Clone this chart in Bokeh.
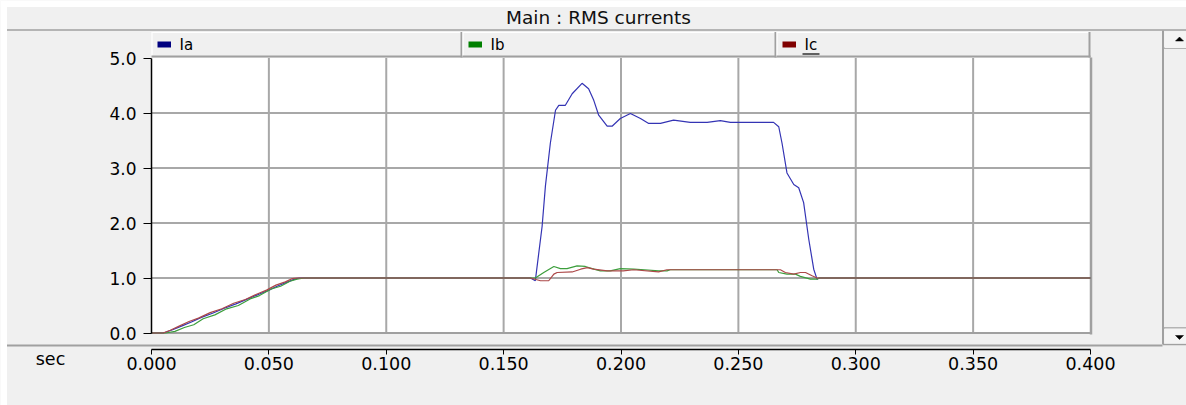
from bokeh.plotting import figure
from bokeh.models import (Range1d, FixedTicker, NumeralTickFormatter,
                          LinearAxis, Label)
from bokeh.embed import file_html
from bokeh.resources import INLINE

# ---- data -------------------------------------------------------------
title_text = "Main : RMS currents"
series_names = ["Ia", "Ib", "Ic"]

x_ticks = [0.0, 0.05, 0.10, 0.15, 0.20, 0.25, 0.30, 0.35, 0.40]
y_ticks = [0.0, 1.0, 2.0, 3.0, 4.0, 5.0]

t_ia = [0.0, 0.005, 0.009, 0.013, 0.017, 0.021, 0.026, 0.031, 0.036, 0.041,
        0.046, 0.050, 0.054, 0.058, 0.061, 0.063,
        0.1614, 0.1635, 0.1664, 0.1678, 0.1699, 0.1721, 0.1735, 0.1763,
        0.1792, 0.1834, 0.1862, 0.1884, 0.1905, 0.1941, 0.1962, 0.1997,
        0.2040, 0.2083, 0.2118, 0.2168, 0.2224, 0.2295, 0.2367, 0.2423,
        0.2466, 0.2650, 0.2672, 0.2686, 0.2707, 0.2736, 0.2757, 0.2778,
        0.2800, 0.2821, 0.2835, 0.2845, 0.400]
v_ia = [0.0, 0.0, 0.06, 0.13, 0.20, 0.28, 0.36, 0.45, 0.53, 0.62,
        0.71, 0.78, 0.86, 0.93, 0.98, 1.0,
        1.0, 0.95, 1.94, 2.67, 3.45, 4.05, 4.14, 4.14,
        4.35, 4.54, 4.44, 4.23, 3.96, 3.76, 3.76, 3.90,
        3.99, 3.90, 3.81, 3.81, 3.87, 3.83, 3.83, 3.86,
        3.83, 3.83, 3.75, 3.45, 2.91, 2.70, 2.64, 2.37,
        1.70, 1.16, 0.98, 1.0, 1.0]

t_ib = [0.0, 0.006, 0.010, 0.014, 0.018, 0.022, 0.027, 0.032, 0.037, 0.042,
        0.046, 0.051, 0.055, 0.059, 0.062, 0.065,
        0.1635, 0.1671, 0.1714, 0.1742, 0.1770, 0.1813, 0.1848, 0.1877,
        0.1912, 0.1954, 0.1997, 0.2054, 0.2100, 0.2160, 0.2196, 0.2210,
        0.2665, 0.2672, 0.2707, 0.2743, 0.2764, 0.2807, 0.2835, 0.2845,
        0.400]
v_ib = [0.0, 0.0, 0.03, 0.10, 0.15, 0.26, 0.33, 0.44, 0.50, 0.62,
        0.68, 0.80, 0.85, 0.94, 0.98, 1.0,
        1.0, 1.10, 1.21, 1.17, 1.17, 1.22, 1.21, 1.17,
        1.13, 1.13, 1.17, 1.16, 1.15, 1.13, 1.13, 1.15,
        1.15, 1.10, 1.07, 1.07, 1.03, 0.98, 0.98, 1.0,
        1.0]

t_ic = [0.0, 0.005, 0.008, 0.012, 0.016, 0.020, 0.025, 0.030, 0.035, 0.040,
        0.045, 0.049, 0.053, 0.057, 0.060, 0.062,
        0.1614, 0.1657, 0.1692, 0.1714, 0.1728, 0.1792, 0.1828, 0.1856,
        0.1884, 0.1941, 0.2010, 0.2054, 0.2160, 0.2196, 0.2679, 0.2700,
        0.2736, 0.2764, 0.2786, 0.2814, 0.2835, 0.400]
v_ic = [0.0, 0.0, 0.05, 0.13, 0.21, 0.27, 0.37, 0.44, 0.54, 0.61,
        0.71, 0.78, 0.87, 0.93, 0.99, 1.0,
        1.0, 0.95, 0.95, 1.07, 1.10, 1.11, 1.16, 1.19,
        1.16, 1.13, 1.13, 1.15, 1.11, 1.15, 1.15, 1.10,
        1.07, 1.10, 1.10, 1.04, 1.0, 1.0]

# ---- page geometry (pixels) --------------------------------------------
W, H = 1186, 405
PL, PR = 151.0, 1090.0          # plot box left / right
PT, PB = 57.5, 332.5            # plot box top / bottom
X_MIN, X_MAX = x_ticks[0], x_ticks[-1]
Y_MIN, Y_MAX = y_ticks[0], y_ticks[-1]
ppx = (PR - PL) / (X_MAX - X_MIN)
ppy = (PB - PT) / (Y_MAX - Y_MIN)


def dx(px):
    return X_MIN + (px - PL) / ppx


def dy(py):
    return Y_MIN + (PB - py) / ppy


FONT = "DejaVu Sans"
CHROME = "#f0f0f0"
EDGE = "#a0a0a0"

p = figure(width=W, height=H,
           x_range=Range1d(dx(0), dx(W)), y_range=Range1d(dy(H), dy(0)),
           x_axis_type=None, y_axis_type=None,
           output_backend="svg", toolbar_location=None,
           min_border=0, background_fill_color=CHROME,
           border_fill_color=CHROME, outline_line_color=None)


def box(x0, y0, x1, y1, color, level="image"):
    p.quad(left=dx(x0), right=dx(x1), top=dy(y0), bottom=dy(y1),
           fill_color=color, line_color=None, level=level)


def seg(x0, y0, x1, y1, color, width=1.0, level="image"):
    p.segment(x0=dx(x0), y0=dy(y0), x1=dx(x1), y1=dy(y1),
              line_color=color, line_width=width, level=level)


# window edges
box(0, 0, W, 6.5, "white")
box(0, 0, 6.5, H, "white")

# title bar
p.add_layout(Label(x=dx(598), y=dy(17), text=title_text,
                   text_font=FONT, text_font_size="18.5px",
                   text_color="#101010", text_align="center",
                   text_baseline="middle"))
seg(6.5, 29.5, W, 29.5, EDGE, 1.6)

# legend strip
cells = [(151, 461), (462, 775), (776, 1089)]
swatch = ["#000080", "#008000", "#800000"]
for (c0, c1), name, col in zip(cells, series_names, swatch):
    seg(c0, 32, c1, 32, "white", 1.2)
    seg(c0 + 0.5, 32, c0 + 0.5, 56, "white", 1.2)
    seg(c1, 31.5, c1, 57, EDGE, 2.0)
    seg(c0, 56, c1 + 1, 56, EDGE, 2.0)
    box(c0 + 6, 41, c0 + 19.5, 47, col, level="overlay")
    p.add_layout(Label(x=dx(c0 + 28), y=dy(44.5), text=name,
                       text_font=FONT, text_font_size="15px",
                       text_color="#000000", text_baseline="middle"))
# keyboard-focus underline under the last legend entry
seg(cells[2][0] + 26, 53.5, cells[2][0] + 43, 53.5, "#000000", 1.2,
    level="overlay")

# plot box
p.quad(left=X_MIN, right=X_MAX, top=Y_MAX, bottom=Y_MIN,
       fill_color="white", line_color=None, level="image")
for xv in x_ticks[1:-1]:
    p.segment(x0=xv, y0=Y_MIN, x1=xv, y1=Y_MAX, line_color="#a8a8a8",
              line_width=2, level="underlay")
for yv in y_ticks[1:-1]:
    p.segment(x0=X_MIN, y0=yv, x1=X_MAX, y1=yv, line_color="#a8a8a8",
              line_width=2, level="underlay")
# bottom and right frame edges
p.segment(x0=X_MIN, y0=Y_MIN, x1=X_MAX, y1=Y_MIN, line_color=EDGE,
          line_width=2, level="underlay")
seg(PR + 0.5, 57, PR + 0.5, 334, EDGE, 2.5, level="underlay")

# current traces
p.line(t_ia, v_ia, line_color="#3434b4", line_width=1.2)
p.line(t_ib, v_ib, line_color="#3c9e3c", line_width=1.2)
p.line(t_ic, v_ic, line_color="#ac4848", line_width=1.2)

# value axis
yax = LinearAxis(fixed_location=X_MIN, bounds=(Y_MIN, Y_MAX),
                 ticker=FixedTicker(ticks=y_ticks),
                 formatter=NumeralTickFormatter(format="0.0"),
                 axis_line_color="#000000", axis_line_width=1.5,
                 major_tick_line_color="#000000", major_tick_out=8,
                 major_tick_in=0, minor_tick_line_color=None,
                 major_label_standoff=7,
                 major_label_text_font=FONT,
                 major_label_text_font_size="17px",
                 major_label_text_color="#000000")
p.add_layout(yax, "left")

# time axis, in its own strip under the plot box
seg(6.5, 345, 1162, 345, EDGE, 2.0)
xax = LinearAxis(fixed_location=dy(348.5), bounds=(X_MIN, X_MAX),
                 ticker=FixedTicker(ticks=x_ticks),
                 formatter=NumeralTickFormatter(format="0.000"),
                 axis_line_color="#000000", axis_line_width=1.5,
                 major_tick_line_color="#000000", major_tick_out=5,
                 major_tick_in=0, minor_tick_line_color=None,
                 major_label_standoff=3,
                 major_label_text_font=FONT,
                 major_label_text_font_size="17.5px",
                 major_label_text_color="#000000")
p.add_layout(xax, "below")
p.add_layout(Label(x=dx(50), y=dy(358), text="sec", text_font=FONT,
                   text_font_size="17.5px", text_color="#000000",
                   text_align="center", text_baseline="middle"))

# vertical scroll bar
seg(1162.5, 30, 1162.5, 344, EDGE, 2.0)
seg(1162.5, 344, W, 344, EDGE, 1.5)
box(1164, 31, W, 47.5, "#f4f4f4", level="underlay")
seg(1163.5, 47.5, W, 47.5, EDGE, 1.5)
box(1164, 328, W, 343, "#f4f4f4", level="underlay")
seg(1163.5, 327.5, W, 327.5, EDGE, 1.5)
p.patch([dx(1175), dx(1183), dx(1179)], [dy(40.5), dy(40.5), dy(36.5)],
        fill_color="#000000", line_color="#000000", line_width=0.5)
p.patch([dx(1175), dx(1183), dx(1179)], [dy(335), dy(335), dy(339)],
        fill_color="#000000", line_color="#000000", line_width=0.5)

open("out.html", "w").write(file_html(p, INLINE))
